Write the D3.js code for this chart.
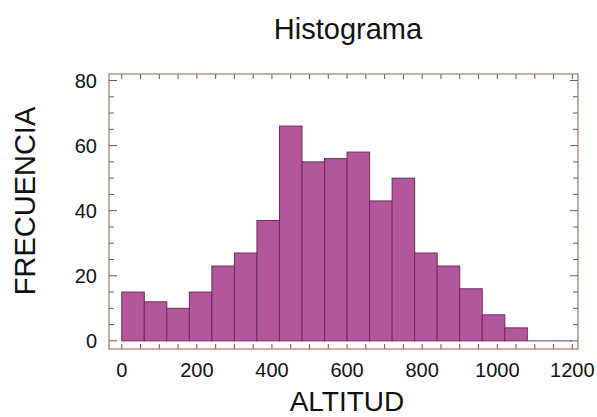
<!DOCTYPE html>
<html><head><meta charset="utf-8">
<script src="https://cdn.jsdelivr.net/npm/d3@7"></script>
<style>body{margin:0;background:#fff}text{font-family:Arial,"Liberation Sans",sans-serif;fill:#111}</style>
</head><body>
<svg id="c" width="597" height="417"></svg>
<script>
const binStarts = [0,60,120,180,240,300,360,420,480,540,600,660,720,780,840,900,960,1020];
const binWidth = 60;
const counts = [15,12,10,15,23,27,37,66,55,56,58,43,50,27,23,16,8,4];
const xTicks = [0,200,400,600,800,1000,1200];
const yTicks = [0,20,40,60,80];
const title = "Histograma", xLabel = "ALTITUD", yLabel = "FRECUENCIA";

const svg = d3.select("#c");
const L=109,R=578,T=74,B=349;
const x = d3.scaleLinear().domain([-34,1215]).range([L,R]);
const y = d3.scaleLinear().domain([-2.5,82]).range([B,T]);

svg.append("g").selectAll("rect").data(counts).join("rect")
  .attr("x",(d,i)=>x(binStarts[i])).attr("width",(d,i)=>x(binStarts[i]+binWidth)-x(binStarts[i]))
  .attr("y",d=>y(d)).attr("height",d=>y(0)-y(d))
  .attr("fill","#b4569e").attr("stroke","#6e2a60").attr("stroke-width",1);
svg.append("line").attr("x1",x(binStarts[binStarts.length-1]+binWidth)).attr("x2",x(1200))
  .attr("y1",y(0)).attr("y2",y(0)).attr("stroke","#5a4a48").attr("stroke-width",1);

const tc="#6a5650";
const xMinor = d3.range(0,1201,50);
svg.append("g").selectAll("line").data(xMinor).join("line")
  .attr("x1",d=>x(d)).attr("x2",d=>x(d)).attr("y1",B).attr("y2",B-5).attr("stroke",tc);
svg.append("g").selectAll("line").data(xMinor).join("line")
  .attr("x1",d=>x(d)).attr("x2",d=>x(d)).attr("y1",T).attr("y2",T+5).attr("stroke",tc);
const yMinor = d3.range(0,81,5);
svg.append("g").selectAll("line").data(yMinor).join("line")
  .attr("x1",L).attr("x2",d=>L+(d%20===0?8:5)).attr("y1",d=>y(d)).attr("y2",d=>y(d)).attr("stroke",tc);
svg.append("g").selectAll("line").data(yMinor).join("line")
  .attr("x1",R).attr("x2",d=>R-(d%20===0?8:5)).attr("y1",d=>y(d)).attr("y2",d=>y(d)).attr("stroke",tc);

svg.append("rect").attr("x",L).attr("y",T).attr("width",R-L).attr("height",B-T)
  .attr("fill","none").attr("stroke","#a07a6c").attr("stroke-width",1.2);

svg.append("g").selectAll("text").data(xTicks).join("text")
  .attr("x",d=>x(d)).attr("y",377).attr("text-anchor","middle").attr("font-size",20).text(d=>d);
svg.append("g").selectAll("text").data(yTicks).join("text")
  .attr("x",97).attr("y",d=>y(d)+7).attr("text-anchor","end").attr("font-size",20).text(d=>d);

svg.append("text").attr("x",348).attr("y",39).attr("text-anchor","middle").attr("font-size",29).text(title);
svg.append("text").attr("x",347).attr("y",411).attr("text-anchor","middle").attr("font-size",28).text(xLabel);
svg.append("text").attr("transform","translate(35,201) rotate(-90)").attr("text-anchor","middle")
  .attr("font-size",29).text(yLabel);
</script>
</body></html>
